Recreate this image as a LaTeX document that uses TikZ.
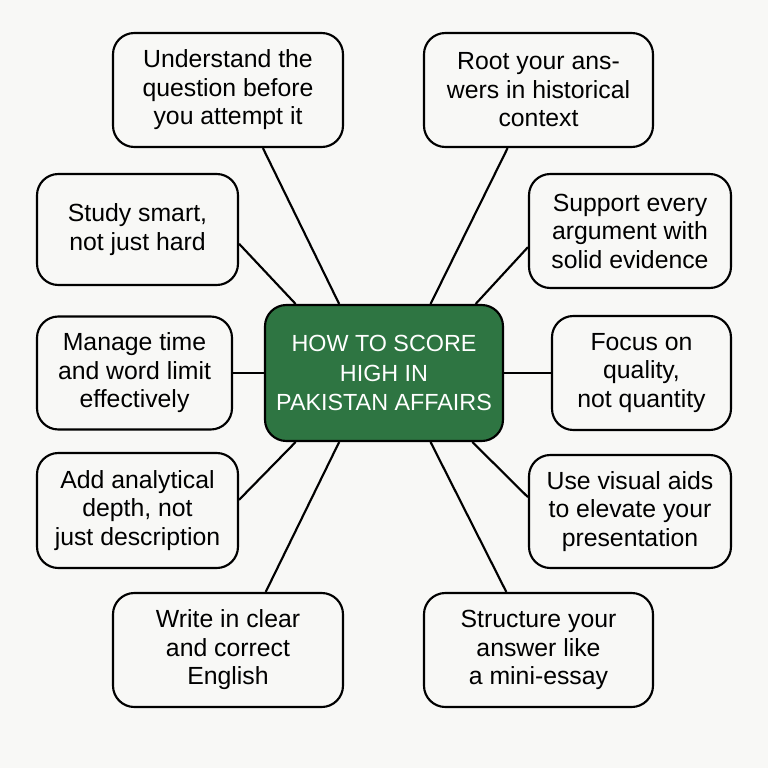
\documentclass[tikz,border=0pt]{standalone}
\usepackage{fontspec}
\setmainfont{Liberation Sans}
\usetikzlibrary{positioning}

\definecolor{pagebg}{HTML}{F8F8F6}
\definecolor{hubgreen}{HTML}{2E7542}

\begin{document}
\begin{tikzpicture}[x=0.75pt,y=-0.75pt,
				tip/.style={draw=black,line width=1.6pt,rounded corners=16pt,
					align=center,inner sep=4pt,
					font={\fontsize{18.6}{21.4}\selectfont}},
				hubbox/.style={tip,fill=hubgreen,text=white,
					minimum width=178.5pt,minimum height=102pt,
					font={\fontsize{17.5}{22}\selectfont}},
				link/.style={draw,line width=1.6pt}]
				
				% Background
				\fill[pagebg] (0,0) rectangle (768,768);
				
				% Hub node
				\node[hubbox] (hub) at (384,373) {HOW TO SCORE\\HIGH IN\\PAKISTAN AFFAIRS};
				
				% Left side
				\node[tip,minimum width=172.5pt,minimum height=85.5pt] (ques) at (228,90) {Understand the\\question before\\you attempt it};
				\node[tip,minimum width=150.75pt,minimum height=83.25pt] (smart) at (137.5,229.5) {Study smart,\\not just hard};
				\node[tip,minimum width=146.25pt,minimum height=84.75pt] (time) at (134.5,373) {Manage time\\and word limit\\effectively};
				\node[tip,minimum width=150.75pt,minimum height=86.25pt] (anal) at (137.5,510.5) {Add analytical\\depth, not\\just description};
				\node[tip,minimum width=172.5pt,minimum height=85.5pt] (eng) at (228,650) {Write in clear\\and correct\\English};
				
				% Right side
				\node[tip,minimum width=171.75pt,minimum height=85.5pt] (root) at (538.5,90) {Root your ans-\\wers in historical\\context};
				\node[tip,minimum width=151.5pt,minimum height=85.5pt] (evid) at (630,231) {Support every\\argument with\\solid evidence};
				\node[tip,minimum width=134.25pt,minimum height=85.5pt] (qual) at (641.5,373) {Focus on\\quality,\\not quantity};
				\node[tip,minimum width=151.5pt,minimum height=84.75pt] (visual) at (630,511.5) {Use visual aids\\to elevate your\\presentation};
				\node[tip,minimum width=171.75pt,minimum height=85.5pt] (essay) at (538.5,650) {Structure your\\answer like\\a mini-essay};
				
				% Connectors
				\draw[link] (ques.-59) -- (hub.123);
				\draw[link] (smart.-8) -- (hub.142);
				\draw[link] (time) -- (hub);
				\draw[link] (anal.6) -- (hub.218);
				\draw[link] (eng.57) -- (hub.-123);
				\draw[link] (root.-118) -- (hub.56);
				\draw[link] (evid.189) -- (hub.37);
				\draw[link] (qual) -- (hub);
				\draw[link] (visual.172) -- (hub.-38);
				\draw[link] (essay.119) -- (hub.-56);
			\end{tikzpicture}
\end{document}
